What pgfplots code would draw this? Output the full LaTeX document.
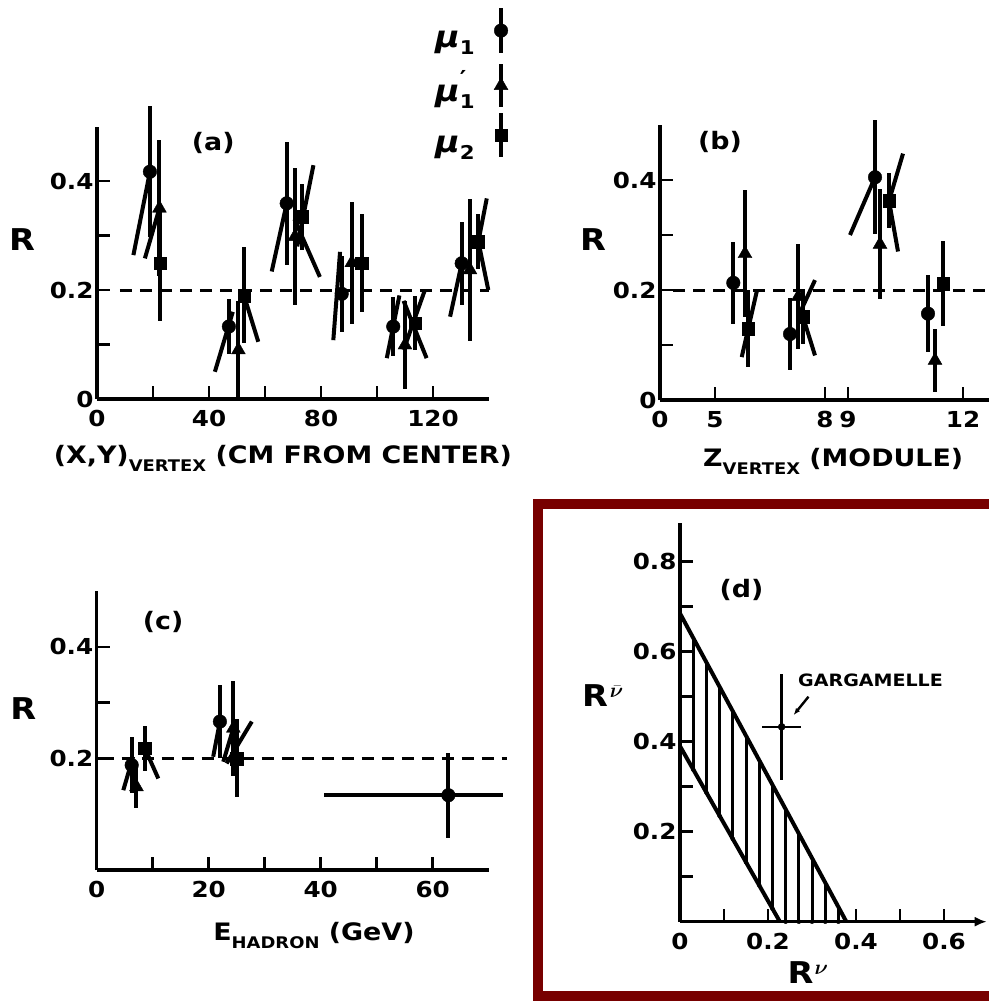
\documentclass[border=0pt]{standalone}
\usepackage{pgfplots}
\pgfplotsset{compat=1.18}
\usepackage{fontspec}
\setmainfont{DejaVu Sans}[FakeStretch=1.12]
\usepackage{bm}
\usetikzlibrary{arrows.meta}
\definecolor{framered}{RGB}{120,0,0}

\newcommand{\tickfont}{\fontsize{22}{22}\selectfont\bfseries}
\newcommand{\labfont}{\fontsize{24}{24}\selectfont\bfseries}
\newcommand{\subfont}{\fontsize{16}{16}\selectfont\bfseries}
\newcommand{\Rfont}{\fontsize{30}{30}\selectfont\bfseries}
\newcommand{\mufont}{\fontsize{30}{30}\selectfont\bfseries\itshape}
\newcommand{\musub}[1]{\raisebox{-7pt}{\fontsize{19}{19}\selectfont\bfseries\upshape #1}}

\pgfplotsset{
  every error bar/.append style={line width=4pt},
  panel/.style={
    scale only axis, axis lines*=left, clip=false,
    axis line style={line width=3.4pt},
    tick align=inside,
    every tick/.style={black, line width=2.6pt},
    major tick length=13pt, minor tick length=13pt,
    tick label style={font=\tickfont},
    xticklabel style={yshift=-8pt},
    /pgf/number format/assume math mode=true,
  },
  err/.style={only marks, black,
    error bars/y dir=both, error bars/y explicit,
    error bars/error mark=none},
  circ/.style={mark=*, mark size=6.8pt, err},
  tri/.style={mark=triangle*, mark size=8pt, err},
  sq/.style={mark=square*, mark size=6.3pt, err},
  seg/.style={black, line width=4pt, mark=none},
  refline/.style={black, line width=3pt, dash pattern=on 12pt off 8pt, mark=none},
}
\newcommand{\seg}[2]{\addplot[seg] coordinates {#1 #2};}

\begin{document}
\begin{tikzpicture}
\path[use as bounding box] (0pt,0pt) rectangle (988pt,-1003pt);

% ---------------- (a)
\begin{axis}[panel, at={(97pt,-399pt)}, anchor=south west,
  width=392pt, height=272.5pt,
  xmin=0, xmax=140, ymin=0, ymax=0.5,
  xtick={0,40,80,120}, xticklabels={0,40,80,120}, minor xtick={20,60,100},
  ytick={0,0.2,0.4}, yticklabels={0,0.2,0.4}, minor ytick={0.1,0.3}]
\addplot[refline] coordinates {(8.2,0.2) (140,0.2)};
\addplot[circ] coordinates {
  (18.9,0.417) +- (0,0.12)
  (47.1,0.133) +- (0,0.05)
  (67.75,0.359) +- (0,0.113)
  (87.4,0.193) +- (0,0.07)
  (105.8,0.133) +- (0,0.055)
  (130.25,0.249) +- (0,0.076)};
\addplot[tri] coordinates {
  (22.3,0.35) +- (0,0.125)
  (50.5,0.09) +- (0,0.09)
  (70.7,0.298) +- (0,0.125)
  (91,0.25) +- (0,0.112)
  (110,0.099) +- (0,0.08)
  (133.2,0.237) +- (0,0.13)};
\addplot[sq] coordinates {
  (22.5,0.249) +- (0,0.105)
  (52.5,0.19) +- (0,0.088)
  (73.1,0.334) +- (0,0.06)
  (94.5,0.249) +- (0,0.09)
  (113.6,0.139) +- (0,0.05)
  (136.2,0.289) +- (0,0.05)};
\seg{(13.0,0.264)}{(18.9,0.417)}
\seg{(17.1,0.258)}{(22.3,0.35)}
\seg{(42.1,0.05)}{(48.5,0.16)}
\seg{(52.5,0.19)}{(57.6,0.105)}
\seg{(62.4,0.234)}{(67.75,0.359)}
\seg{(77.3,0.429)}{(71.5,0.28)}
\seg{(70.5,0.33)}{(79.6,0.224)}
\seg{(84.4,0.108)}{(86.8,0.27)}
\seg{(103.5,0.075)}{(108,0.19)}
\seg{(117.1,0.2)}{(109.5,0.09)}
\seg{(117.7,0.075)}{(109.5,0.18)}
\seg{(126.1,0.151)}{(130.25,0.249)}
\seg{(139.2,0.368)}{(136.2,0.289)}
\seg{(136.2,0.289)}{(139.75,0.2)}
% legend symbols
\addplot[circ] coordinates {(144.3,0.676) +- (0,0.042)};
\addplot[tri] coordinates {(144.3,0.575) +- (0,0.04)};
\addplot[sq] coordinates {(144.3,0.484) +- (0,0.04)};
\node[font=\mufont, anchor=base west] at (axis cs:119.5,0.645) {μ\musub{1}};
\node[font=\mufont, anchor=base west] at (axis cs:119.5,0.546) {μ\makebox[0pt][l]{\raisebox{15pt}{\fontsize{22}{22}\selectfont\bfseries\upshape ′}}\musub{1}};
\node[font=\mufont, anchor=base west] at (axis cs:119.5,0.452) {μ\musub{2}};
\node[font=\labfont] at (axis cs:41.5,0.469) {(a)};
\node[font=\Rfont] at (axis cs:-26.8,0.292) {R};
\node[anchor=base west, font=\labfont, inner sep=0pt] at (axis cs:-15.5,-0.118)
  {(X,Y)\raisebox{-8pt}{\subfont VERTEX} (CM FROM CENTER)};
\end{axis}

% ---------------- (b)
\begin{axis}[panel, at={(660pt,-400pt)}, anchor=south west,
  width=330pt, height=275pt,
  xmin=0, xmax=33, ymin=0, ymax=0.5,
  xtick={0,5.5,16.5,18.8,30.3}, xticklabels={0,5,8,9,12},
  ytick={0,0.2,0.4}, yticklabels={0,0.2,0.4}, minor ytick={0.1,0.3}]
\addplot[refline] coordinates {(1.3,0.2) (33,0.2)};
\addplot[circ] coordinates {
  (7.33,0.213) +- (0,0.074)
  (13.0,0.12) +- (0,0.065)
  (21.5,0.405) +- (0,0.104)
  (26.8,0.157) +- (0,0.07)};
\addplot[tri] coordinates {
  (8.5,0.266) +- (0,0.115)
  (13.83,0.188) +- (0,0.095)
  (22.0,0.283) +- (0,0.1)
  (27.5,0.072) +- (0,0.057)};
\addplot[sq] coordinates {
  (8.83,0.13) +- (0,0.07)
  (14.33,0.151) +- (0,0.05)
  (22.9,0.362) +- (0,0.05)
  (28.3,0.212) +- (0,0.077)};
\seg{(9.67,0.197)}{(8.17,0.078)}
\seg{(13.8,0.151)}{(15.5,0.218)}
\seg{(14.3,0.151)}{(15.5,0.081)}
\seg{(19.0,0.30)}{(21.5,0.405)}
\seg{(24.3,0.448)}{(22.9,0.362)}
\seg{(22.9,0.362)}{(23.8,0.27)}
\node[font=\labfont] at (axis cs:6.0,0.47) {(b)};
\node[font=\Rfont] at (axis cs:-6.7,0.292) {R};
\node[anchor=base west, font=\labfont, inner sep=0pt] at (axis cs:4.3,-0.12)
  {Z\raisebox{-8pt}{\subfont VERTEX} (MODULE)};
\end{axis}

% ---------------- (c)
\begin{axis}[panel, at={(96.7pt,-870pt)}, anchor=south west,
  width=392pt, height=279pt,
  xmin=0, xmax=70, ymin=0, ymax=0.5,
  xtick={0,20,40,60}, xticklabels={0,20,40,60}, minor xtick={10,30,50},
  ytick={0.2,0.4}, yticklabels={0.2,0.4}, minor ytick={0.3}]
\addplot[refline] coordinates {(0.9,0.2) (73.2,0.2)};
\addplot[circ] coordinates {
  (6.25,0.188) +- (0,0.05)
  (22,0.266) +- (0,0.066)};
\addplot[tri] coordinates {
  (7.1,0.149) +- (0,0.038)
  (24.4,0.254) +- (0,0.085)};
\addplot[sq] coordinates {
  (8.6,0.218) +- (0,0.04)
  (25,0.2) +- (0,0.07)};
\addplot[circ, error bars/x dir=both, error bars/x explicit] coordinates {
  (62.8,0.134) += (9.8,0.076) -= (22.3,0.076)};
\seg{(4.75,0.143)}{(6.5,0.203)}
\seg{(8.6,0.218)}{(11.0,0.164)}
\seg{(20.8,0.203)}{(22,0.266)}
\seg{(22.6,0.194)}{(24.4,0.254)}
\seg{(27.7,0.266)}{(23.2,0.191)}
\node[font=\labfont] at (axis cs:11.85,0.445) {(c)};
\node[font=\Rfont] at (axis cs:-13.1,0.29) {R};
\node[anchor=base west, font=\labfont, inner sep=0pt] at (axis cs:20.8,-0.127)
  {E\raisebox{-8pt}{\subfont HADRON} (GeV)};
\end{axis}

% ---------------- (d)
\begin{axis}[panel, axis x line*=bottom, axis y line*=left,
  x axis line style={-{Latex[length=12pt,width=10pt]}},
  at={(680pt,-921.7pt)}, anchor=south west,
  width=306.7pt, height=398.3pt,
  xmin=0, xmax=0.697, ymin=0, ymax=0.885,
  xtick={0,0.2,0.4,0.6}, xticklabels={0,0.2,0.4,0.6}, minor xtick={0.1,0.3,0.5},
  ytick={0.2,0.4,0.6,0.8}, yticklabels={0.2,0.4,0.6,0.8}, minor ytick={0.1,0.3,0.5,0.7}]
\addplot[seg] coordinates {(0,0.685) (0.378,0)};
\addplot[seg] coordinates {(0,0.39) (0.227,0)};
% hatching between the two bounds
\addplot[only marks, mark=none, black,
  error bars/y dir=plus, error bars/y explicit, error bars/error mark=none,
  error bars/error bar style={line width=3pt}] coordinates {
  (0.03,0.338) += (0,0.293)
  (0.06,0.287) += (0,0.289)
  (0.09,0.235) += (0,0.287)
  (0.12,0.184) += (0,0.284)
  (0.15,0.132) += (0,0.281)
  (0.18,0.081) += (0,0.278)
  (0.21,0.029) += (0,0.275)
  (0.24,0) += (0,0.250)
  (0.27,0) += (0,0.196)
  (0.30,0) += (0,0.141)
  (0.33,0) += (0,0.087)
  (0.36,0) += (0,0.033)};
% Gargamelle point
\addplot[only marks, mark=*, mark size=3.5pt, black,
  error bars/y dir=both, error bars/y explicit,
  error bars/x dir=both, error bars/x explicit,
  error bars/error mark=none,
  error bars/error bar style={line width=2.4pt}] coordinates {
  (0.231,0.433) +- (0.045,0.118)};
\node[font=\fontsize{17}{17}\selectfont\bfseries] at (axis cs:0.433,0.537) {GARGAMELLE};
\draw[line width=2.4pt, -{Latex[length=7pt]}] (axis cs:0.292,0.5) -- (axis cs:0.258,0.459);
\node[font=\labfont] at (axis cs:0.14,0.737) {(d)};
\node[font=\Rfont, inner sep=0pt] at (axis cs:-0.175,0.502) {R\kern2pt$^{\bar{\bm{\nu}}}$};
\node[font=\Rfont, inner sep=0pt] at (axis cs:0.291,-0.114) {R\kern1pt$^{\bm{\nu}}$};
\end{axis}

\draw[line width=10pt, framered] (537.5pt,-504pt) rectangle (1000pt,-995.5pt);
\end{tikzpicture}
\end{document}
